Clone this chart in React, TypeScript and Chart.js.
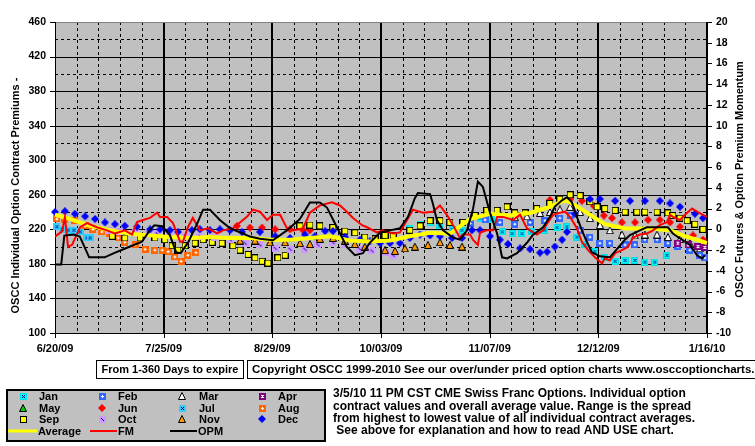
import React, { useEffect, useRef } from 'react';
import { Chart, registerables } from 'chart.js';

Chart.register(...registerables);

const FONT = "'Liberation Sans', Arial, Helvetica, sans-serif";

// ---- axes ----
const X_LABELS = ['6/20/09', '7/25/09', '8/29/09', '10/03/09', '11/07/09', '12/12/09', '1/16/10'];
const X_MIN = 0;
const X_MAX = 210; // days from 6/20/09
const X_MAJOR = 35;
const X_MINOR = 7;
const Y_MIN = 100;
const Y_MAX = 460;
const Y_GRID = 20;
const Y_LABEL_STEP = 40;
const Y1_MIN = -10;
const Y1_MAX = 20;
const Y1_STEP = 2;

// ---- series: [day, value] ----
const JAN = [[114.3, 221], [117.6, 226], [120.8, 228], [124, 224], [127.9, 220], [131.1, 219], [133.7, 228], [136.9, 233], [140.7, 231], [144, 217], [147.2, 215], [150.4, 215], [153.6, 217], [157.8, 219], [161.7, 222], [164.9, 223], [168.1, 211], [170.7, 202], [173.9, 194], [177.1, 187], [180.4, 183], [183.6, 184], [186.8, 184], [190, 182], [193.2, 182], [197.1, 190]];
const FEB = [[133.7, 227], [138.5, 231], [143.3, 228], [148.1, 226], [153, 228], [157.8, 230], [162.6, 233], [165.9, 236], [169.1, 219], [172.3, 211], [175.5, 204], [178.7, 204], [183.6, 202], [186.8, 202], [190, 208], [193.9, 208], [197.4, 204], [200.6, 200], [204.5, 196], [207.7, 190], [209.3, 187]];
const MAR = [[148.1, 234], [152, 235], [156.2, 239], [159.4, 240], [162.6, 243], [165.9, 246], [169.1, 240], [172.3, 233], [175.5, 225], [178.7, 219], [182.6, 214], [186.8, 213], [190, 214], [193.9, 214], [197.4, 211], [201.3, 209], [204.5, 204], [207.7, 198]];
const APR = [[200.6, 204], [203.9, 202], [207.1, 200], [209.3, 199]];
const MAY: number[][] = [];
const JUN = [[58.6, 224], [62.8, 222], [66.7, 222], [70.9, 220], [75.7, 220], [79.9, 219], [82.1, 219], [159.4, 254], [162.6, 254], [166, 255], [169.7, 253], [173.6, 247], [176.8, 236], [179.4, 233], [182.6, 228], [186.8, 228], [191, 231], [194.8, 231], [198.1, 228], [201.3, 223], [205.5, 213], [208.7, 208]];
const JUL = [[0.6, 223], [2.3, 220], [4.2, 219], [6.1, 219], [8.1, 217], [10.3, 210], [11.3, 210]];
const AUG = [[0.6, 232], [3.2, 231], [6.4, 230], [9.7, 224], [12.2, 220], [15.1, 217], [17.7, 215], [20.3, 210], [22.5, 205], [25.8, 202], [29, 197], [32.2, 196], [34.5, 196], [36.4, 194], [38.6, 188], [40.6, 183], [42.8, 190], [45.4, 193]];
const SEP = [[18.4, 212], [22.5, 210], [27.4, 210], [32.2, 210], [35.4, 208], [37.7, 201], [39.6, 196], [41.9, 201], [45.1, 204], [47.7, 208], [50.6, 205], [53.8, 204], [57.3, 201], [59.6, 196], [62.2, 191], [64.4, 187], [66.7, 183], [68.6, 181], [71.8, 187], [74.1, 190],
  [78.9, 224], [82.1, 225], [85.3, 224], [89.5, 222], [93.4, 218], [96.6, 216], [99.8, 211], [103.1, 209], [106.3, 213], [108.9, 213], [114.3, 219], [117.6, 224], [120.8, 230], [124, 230], [127.2, 228], [131.4, 228], [135.3, 236], [139.1, 242], [142.4, 242], [145.6, 246], [148.1, 239], [151.4, 239], [155.2, 244], [159.4, 250], [162.6, 255], [165.9, 260], [169.1, 259], [172.3, 252], [174.6, 246], [177.1, 244], [180.4, 242], [183.6, 240], [187.4, 240], [190, 240], [193.9, 240], [197.4, 239], [199, 236], [201.3, 233], [203.6, 230], [206.1, 226], [208.7, 220]];
const OCT = [[17.7, 219], [20.9, 218], [25.8, 216], [30, 216], [32.9, 215], [37, 213], [41.9, 212], [46.7, 212], [51.5, 211], [56.4, 208], [61.2, 204], [66, 202], [70.9, 198], [75.7, 197], [80.5, 197], [84.7, 202], [89.5, 205], [93.4, 202], [98.2, 197], [102.1, 195], [106.3, 193], [108.9, 190]];
const NOV = [[59.6, 207], [64.4, 207], [69.2, 205], [74.1, 205], [78.9, 204], [82.1, 203], [85.3, 209], [89.5, 210], [93.4, 207], [96.6, 203], [99.8, 200], [106.3, 196], [109.5, 195], [112.7, 198], [115.9, 200], [120.1, 202], [124, 205], [127.2, 202], [131.1, 200]];
const DEC = [[0, 240], [3.2, 241], [6.4, 238], [9.7, 235], [12.9, 232], [16.1, 228], [19.3, 226], [22.5, 224], [26.4, 223], [30.6, 220], [33.8, 220], [37, 219], [39.6, 217], [44.1, 219], [46.7, 220], [49.9, 219], [53.1, 220], [56.4, 219], [60.2, 217], [66, 217], [70.9, 212], [75.7, 210], [80.5, 214], [83.7, 212], [87, 218], [89.5, 218], [93.4, 211], [98.2, 208], [101.4, 206], [104.7, 204], [107.9, 204], [111.1, 204], [114.3, 210], [117.6, 214], [120.8, 213], [124, 212], [127.9, 210], [131.1, 210], [134.3, 219], [136.9, 219], [140.1, 212], [143.3, 208], [145.9, 203], [149.8, 198], [153, 197], [156.2, 193], [158.5, 194], [161, 200], [163.3, 208], [164.9, 217], [167.5, 238], [172.3, 255], [175.5, 255], [180.4, 253], [185.2, 253], [190, 253], [194.8, 253], [198.1, 250], [201.3, 246], [206.1, 238], [208.7, 233]];
const AVERAGE = [[0, 237], [4.8, 232], [11.3, 224], [17.7, 219], [24.2, 215], [30.6, 213], [37, 211], [43.5, 210], [49.9, 211], [56.4, 210], [62.8, 210], [69.2, 208], [75.7, 208], [82.1, 210], [88.6, 212], [95, 207], [101.4, 206], [107.9, 207], [114.3, 212], [120.8, 216], [127.2, 215], [133.7, 232], [140.1, 238], [146.5, 236], [153, 239], [159.4, 246], [164.3, 254], [167.5, 248], [172.3, 237], [177.1, 226], [183.6, 221], [191.6, 221], [198.1, 219], [202.9, 212], [207.7, 207], [210, 204]];
const FM = [[0, -0.7], [2.3, -0.2], [3.2, 1.2], [4.2, -1.7], [5.5, -1.5], [6.4, -0.9], [8.1, 0.2], [10.3, 0.6], [13.5, 0.2], [16.7, -0.1], [19.3, -0.4], [22.5, -0.1], [24.8, -0.5], [26.4, 0.7], [28.3, 0.9], [30.6, 1.1], [32.9, 1.6], [33.8, 1.2], [36.1, 1.2], [38, 0.6], [40.3, -1.2], [41.2, -1.2], [42.8, 0.2], [44.4, 1.1], [46.7, -0.1], [49.3, 0.1], [52.2, -0.4], [54.1, -0.1], [57.3, 0.1], [61.8, 1.2], [63.8, 1.9], [66, 1.7], [68.3, 0.9], [70.2, 1.4], [72.5, 1.4], [74.7, 0.1], [76.7, -0.1], [79.9, 0.1], [82.1, 1.6], [85.3, 2.3], [89.2, 2.6], [91.8, 2.3], [94, 1.7], [96, 1.1], [98.9, 0.4], [100.5, 0.2], [103.7, -0.3], [105.6, -0.1], [108.9, -0.4], [111.1, -0.3], [113.4, 0.9], [115.3, 1.9], [118.5, 1.6], [121.7, 1.7], [124, 2.3], [126.2, 1.4], [128.2, 0.4], [130.4, -0.8], [131.4, -0.5], [133.7, -0.5], [134.6, -1.0], [136.2, -1.5], [136.9, -0.3], [139.1, -0.1], [141.1, -0.1], [142.4, 1.2], [144.3, 1.2], [147.5, 0.9], [149.8, 1.4], [152, 0.1], [155.2, -0.5], [157.2, -0.1], [158.8, 0.7], [160.4, 1.4], [162.6, 1.6], [164.3, 1.7], [165.9, 1.2], [168.1, 0.1], [169.7, -1.2], [171.7, -2.0], [173.9, -2.7], [176.2, -3.3], [177.1, -2.8], [178.7, -3.0], [180.4, -2.3], [182.6, -2.0], [184.5, -1.7], [186.2, -0.8], [188.4, -0.5], [190.7, -0.4], [192.6, -0.1], [194.8, 0.4], [197.1, 0.7], [198.1, 1.4], [199, 1.2], [201.3, 0.9], [202.9, 1.4], [205.2, 2.0], [206.8, 1.7], [208.7, 1.4], [210, 1.2]];
const OPM = [[0, -3.4], [2, -3.4], [3, -0.6], [6, -0.5], [8, -0.7], [11, -2.7], [16, -2.7], [19, -2.3], [23, -1.8], [28, -1.2], [31, 0.1], [32, 0.4], [34.5, 0.3], [37, -0.55], [39, -2.2], [40.5, -2.3], [43, -1.2], [46, 0.7], [47.7, 1.9], [49.9, 1.9], [53.1, 0.9], [56.4, 0.1], [60.5, -0.4], [62.8, -0.7], [66, -0.9], [70.2, -1.05], [74.7, -0.1], [78.9, 1.0], [82.1, 2.6], [85.3, 2.6], [87.6, 2.1], [90.8, 0.2], [94, -1.7], [96.6, -2.5], [99.2, -2.3], [101.4, -1.3], [104.7, -0.3], [107.9, -0.1], [111.1, 0.1], [113.7, 1.2], [115.9, 3.0], [116.9, 3.5], [120.8, 3.4], [121.7, 2.5], [123, 0.9], [125, -0.1], [128.2, -0.8], [130.4, -1.0], [132.7, -0.1], [134.6, 1.9], [136.2, 4.6], [137.8, 4.1], [140.1, 1.6], [142.4, -0.4], [144, -2.7], [145.6, -2.8], [148.8, -2.3], [152, -1.3], [153.9, -0.55], [157.2, 0.2], [159.4, 1.2], [161, 2.2], [163.3, 2.8], [164.9, 3.1], [166.5, 2.6], [168.1, 1.2], [169.7, -0.1], [171.3, -1.2], [172.9, -2.2], [175.5, -2.6], [178.7, -2.7], [181.3, -1.8], [183.6, -1.0], [185.2, -0.55], [188.4, -0.1], [190.6, 0.2], [197.4, 0.2], [199, -0.4], [201.9, -1.0], [204.5, -1.5], [206.8, -2.5], [208.4, -2.8], [209.3, -2.5]];

const TEXT_BLOCK = [
  '3/5/10 11 PM CST CME Swiss Franc Options. Individual option',
  'contract values and overall average value. Range is the spread',
  'from highest to lowest value of all individual contract averages.',
  ' See above for explanation and how to read AND USE chart.',
];
const LEFT_TITLE = 'OSCC Individual Option Contract Premiums -';
const RIGHT_TITLE = 'OSCC Futures & Option Premium Momentum';
const BOX1 = 'From 1-360 Days to expire';
const BOX2 = 'Copyright OSCC 1999-2010 See our over/under priced option charts www.osccoptioncharts.com';

type Marker = HTMLCanvasElement;

function mk(size: number, draw: (c: CanvasRenderingContext2D) => void): Marker {
  const cv = document.createElement('canvas');
  cv.width = size;
  cv.height = size;
  const c = cv.getContext('2d')!;
  draw(c);
  return cv;
}
function sq(fill: string, border: string | null, glyph: null | 'x' | '+' | 'I' | 'dots', gcol: string) {
  return mk(7, (c) => {
    c.fillStyle = border || fill;
    c.fillRect(0, 0, 7, 7);
    c.fillStyle = fill;
    c.fillRect(1, 1, 5, 5);
    c.fillStyle = gcol;
    const px = (x: number, y: number) => c.fillRect(x, y, 1, 1);
    if (glyph === 'x') { px(2, 2); px(4, 2); px(3, 3); px(2, 4); px(4, 4); }
    if (glyph === '+') { px(3, 2); px(2, 3); px(3, 3); px(4, 3); px(3, 4); }
    if (glyph === 'I') { px(2, 2); px(3, 2); px(4, 2); px(3, 3); px(2, 4); px(3, 4); px(4, 4); }
    if (glyph === 'dots') { px(2, 2); px(4, 4); px(3, 3); }
  });
}
function tri(fill: string) {
  return mk(8, (c) => {
    c.beginPath();
    c.moveTo(4, 0.5);
    c.lineTo(7.5, 7.5);
    c.lineTo(0.5, 7.5);
    c.closePath();
    c.fillStyle = fill;
    c.fill();
    c.strokeStyle = '#000';
    c.lineWidth = 1;
    c.stroke();
  });
}
function dia(fill: string) {
  return mk(8, (c) => {
    c.beginPath();
    c.moveTo(4, 0);
    c.lineTo(8, 4);
    c.lineTo(4, 8);
    c.lineTo(0, 4);
    c.closePath();
    c.fillStyle = fill;
    c.fill();
  });
}

export default function App() {
  const ref = useRef<HTMLCanvasElement>(null);

  useEffect(() => {
    document.body.style.margin = '0';
    const canvas = ref.current!;
    const M: Record<string, Marker> = {
      Jan: sq('#00FFFF', '#00E0E0', 'x', '#000080'),
      Feb: sq('#3366FF', null, '+', '#FFFFFF'),
      Mar: tri('#FFFFFF'),
      Apr: sq('#800080', null, 'I', '#FFFFFF'),
      May: tri('#00CC00'),
      Jun: dia('#FF0000'),
      Jul: sq('#33CCFF', null, 'x', '#000080'),
      Aug: sq('#FF6600', null, '+', '#FFFFFF'),
      Sep: sq('#FFFF00', '#000000', null, '#000'),
      Oct: sq('#CC99FF', null, 'dots', '#000080'),
      Nov: tri('#FF9900'),
      Dec: dia('#0000FF'),
    };
    const series: [string, number[][]][] = [
      ['Jan', JAN], ['Feb', FEB], ['Mar', MAR], ['Apr', APR], ['May', MAY], ['Jun', JUN],
      ['Jul', JUL], ['Aug', AUG], ['Sep', SEP], ['Oct', OCT], ['Nov', NOV], ['Dec', DEC],
    ];
    const pts = (a: number[][]) => a.map(([x, y]) => ({ x, y }));

    const markerSets = series.map(([name, arr], i) => ({
      type: 'line' as const,
      label: name,
      data: pts(arr),
      showLine: false,
      pointStyle: M[name],
      pointRadius: 4,
      pointHoverRadius: 4,
      yAxisID: 'y',
      clip: false as any,
      order: 20 - i,
    }));

    const gridPlugin = {
      id: 'osccGrid',
      beforeDatasetsDraw(chart: any) {
        const { ctx, chartArea: a, scales } = chart;
        const x = scales.x, y = scales.y, y1 = scales.y1;
        ctx.save();
        ctx.fillStyle = '#C0C0C0';
        ctx.fillRect(a.left, a.top, a.right - a.left, a.bottom - a.top);
        ctx.strokeStyle = '#000';
        for (let v = Y_MIN + Y_GRID; v < Y_MAX; v += Y_GRID) {
          const py = Math.round(y.getPixelForValue(v)) + 0.5;
          const major = (v - Y_MIN) % Y_LABEL_STEP === 0;
          ctx.lineWidth = 1;
          ctx.setLineDash(major ? [] : [3, 3]);
          ctx.beginPath();
          ctx.moveTo(a.left, py);
          ctx.lineTo(a.right, py);
          ctx.stroke();
        }
        for (let d = X_MIN + X_MINOR; d < X_MAX; d += X_MINOR) {
          const major = d % X_MAJOR === 0;
          const px = x.getPixelForValue(d);
          ctx.beginPath();
          if (major) {
            ctx.setLineDash([]);
            ctx.lineWidth = 2;
            ctx.moveTo(Math.round(px), a.top);
            ctx.lineTo(Math.round(px), a.bottom);
          } else {
            ctx.setLineDash([3, 3]);
            ctx.lineWidth = 1;
            ctx.moveTo(Math.round(px) + 0.5, a.top);
            ctx.lineTo(Math.round(px) + 0.5, a.bottom);
          }
          ctx.stroke();
        }
        ctx.setLineDash([]);
        ctx.strokeStyle = '#808080';
        ctx.lineWidth = 1;
        ctx.beginPath();
        ctx.moveTo(a.left, a.top + 0.5);
        ctx.lineTo(a.right, a.top + 0.5);
        ctx.stroke();
        ctx.strokeStyle = '#000';
        ctx.beginPath();
        ctx.moveTo(a.left + 0.5, a.top);
        ctx.lineTo(a.left + 0.5, a.bottom + 1);
        for (let v = Y_MIN; v <= Y_MAX; v += Y_LABEL_STEP) {
          const py = Math.round(y.getPixelForValue(v)) + 0.5;
          ctx.moveTo(a.left - 5, py);
          ctx.lineTo(a.left, py);
        }
        ctx.moveTo(a.left, a.bottom + 0.5);
        ctx.lineTo(a.right, a.bottom + 0.5);
        ctx.stroke();
        ctx.lineWidth = 1;
        ctx.beginPath();
        for (let d = X_MIN; d <= X_MAX; d += X_MAJOR) {
          const px = Math.round(x.getPixelForValue(d)) + 0.5;
          ctx.moveTo(px, a.bottom);
          ctx.lineTo(px, a.bottom + 5);
        }
        ctx.stroke();
        ctx.lineWidth = 2;
        ctx.beginPath();
        ctx.moveTo(a.right, a.top);
        ctx.lineTo(a.right, a.bottom + 1);
        ctx.stroke();
        ctx.lineWidth = 1;
        ctx.beginPath();
        for (let v = Y1_MIN; v <= Y1_MAX; v += Y1_STEP) {
          const py = Math.round(y1.getPixelForValue(v)) + 0.5;
          ctx.moveTo(a.right, py);
          ctx.lineTo(a.right + 5, py);
        }
        ctx.stroke();
        ctx.restore();
      },
    };

    const decorPlugin = {
      id: 'osccDecor',
      afterDraw(chart: any) {
        const { ctx, chartArea: a } = chart;
        ctx.save();
        ctx.fillStyle = '#000';
        ctx.textBaseline = 'middle';
        ctx.font = `bold 11px ${FONT}`;
        ctx.textAlign = 'center';
        ctx.save();
        ctx.translate(16, (a.top + a.bottom) / 2 + 18);
        ctx.rotate(-Math.PI / 2);
        ctx.fillText(LEFT_TITLE, 0, 0);
        ctx.restore();
        ctx.save();
        ctx.translate(740, (a.top + a.bottom) / 2 + 2);
        ctx.rotate(-Math.PI / 2);
        ctx.fillText(RIGHT_TITLE, 0, 0);
        ctx.restore();
        // boxes
        ctx.lineWidth = 1;
        ctx.strokeStyle = '#000';
        ctx.fillStyle = '#FFF';
        ctx.fillRect(96.5, 360.5, 147, 18);
        ctx.strokeRect(96.5, 360.5, 147, 18);
        ctx.fillRect(247.5, 360.5, 520, 18);
        ctx.strokeRect(247.5, 360.5, 520, 18);
        ctx.fillStyle = '#000';
        ctx.textAlign = 'center';
        ctx.fillText(BOX1, 170, 370);
        ctx.textAlign = 'left';
        ctx.font = `bold 11.5px ${FONT}`;
        ctx.fillText(BOX2, 252, 370);
        // legend
        ctx.fillStyle = '#C0C0C0';
        ctx.fillRect(7, 390, 318, 51);
        ctx.lineWidth = 2;
        ctx.strokeRect(7, 390, 318, 51);
        const cols = [[23, 39], [102, 118], [182, 199], [262, 278]];
        const rows = [396, 408, 419];
        const names = series.map((s) => s[0]);
        ctx.font = `bold 11px ${FONT}`;
        ctx.fillStyle = '#000';
        names.forEach((n, i) => {
          const [mx, tx] = cols[i % 4];
          const ry = rows[Math.floor(i / 4)];
          const img = M[n];
          ctx.drawImage(img, Math.round(mx - img.width / 2), Math.round(ry - img.height / 2));
          ctx.fillText(n, tx, ry + 0.5);
        });
        const lineRow = 431;
        const lines: [string, string, number, number, number][] = [
          ['Average', '#FFFF00', 3, 8, 37],
          ['FM', '#FF0000', 2, 90, 117],
          ['OPM', '#000000', 2, 170, 197],
        ];
        lines.forEach(([n, col, w, x0, x1]) => {
          ctx.strokeStyle = col;
          ctx.lineWidth = w;
          ctx.beginPath();
          ctx.moveTo(x0, lineRow);
          ctx.lineTo(x1, lineRow);
          ctx.stroke();
          ctx.fillText(n, x1 + 1, lineRow + 0.5);
        });
        ctx.font = `bold 12px ${FONT}`;
        const ty = [394, 407, 419, 431];
        TEXT_BLOCK.forEach((t, i) => ctx.fillText(t, 333, ty[i]));
        ctx.restore();
      },
    };

    const chart = new Chart(canvas, {
      type: 'line',
      data: {
        datasets: [
          ...markerSets,
          {
            label: 'Average', data: pts(AVERAGE), borderColor: '#FFFF00', borderWidth: 4,
            pointRadius: 0, tension: 0, yAxisID: 'y', order: 3, clip: false as any,
          },
          {
            label: 'FM', data: pts(FM), borderColor: '#FF0000', borderWidth: 2,
            pointRadius: 0, tension: 0, yAxisID: 'y1', order: 2,
          },
          {
            label: 'OPM', data: pts(OPM), borderColor: '#000000', borderWidth: 2,
            pointRadius: 0, tension: 0, yAxisID: 'y1', order: 1,
          },
        ] as any,
      },
      options: {
        responsive: false,
        animation: false,
        devicePixelRatio: 1,
        events: [],
        layout: { padding: { top: 22, left: 0, right: 0, bottom: 0 } },
        plugins: { legend: { display: false }, tooltip: { enabled: false }, title: { display: false } },
        scales: {
          x: {
            type: 'linear', min: X_MIN, max: X_MAX,
            grid: { display: false, drawTicks: false }, border: { display: false },
            ticks: {
              stepSize: X_MAJOR, autoSkip: false, maxRotation: 0, padding: 9, color: '#000',
              font: { family: FONT, size: 11, weight: 'bold' },
              callback: (v: any) => X_LABELS[Math.round((v - X_MIN) / X_MAJOR)] ?? '',
            },
            afterFit: (s: any) => { s.height = 113; },
          },
          y: {
            type: 'linear', position: 'left', min: Y_MIN, max: Y_MAX,
            grid: { display: false, drawTicks: false }, border: { display: false },
            ticks: {
              stepSize: Y_GRID, autoSkip: false, padding: 9, color: '#000',
              font: { family: FONT, size: 10.5, weight: 'bold' },
              callback: (v: any) => ((v - Y_MIN) % Y_LABEL_STEP === 0 ? String(v) : ''),
            },
            afterFit: (s: any) => { s.width = 55; },
          },
          y1: {
            type: 'linear', position: 'right', min: Y1_MIN, max: Y1_MAX,
            grid: { display: false, drawTicks: false }, border: { display: false },
            ticks: {
              stepSize: Y1_STEP, autoSkip: false, padding: 9, color: '#000',
              font: { family: FONT, size: 10.5, weight: 'bold' },
              callback: (v: any) => String(v),
            },
            afterFit: (s: any) => { s.width = 48; },
          },
        },
      } as any,
      plugins: [gridPlugin, decorPlugin],
    });
    return () => chart.destroy();
  }, []);

  return (
    <div style={{ width: 755, height: 446, background: '#FFFFFF' }}>
      <canvas ref={ref} width={755} height={446} style={{ display: 'block', width: 755, height: 446 }} />
    </div>
  );
}
